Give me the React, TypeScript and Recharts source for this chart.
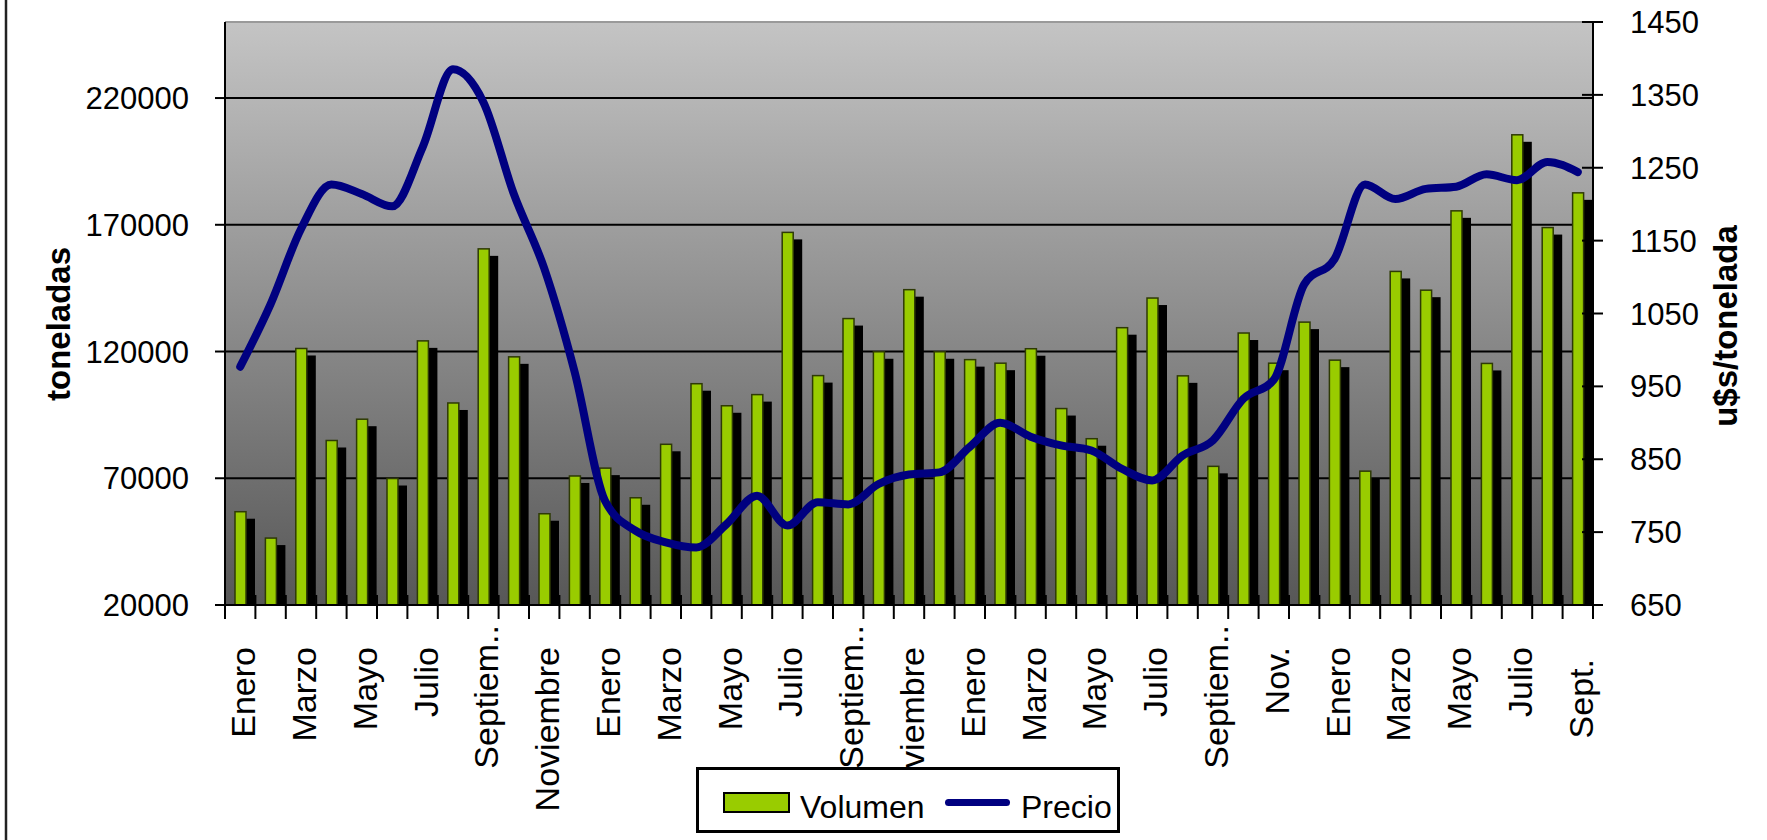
import React from 'react';
import {
  ComposedChart, Bar, Line, XAxis, YAxis, CartesianGrid, Legend, ReferenceLine,
} from 'recharts';

// Periodos mensuales: 3 años completos + enero a septiembre del cuarto
const PERIODOS = [
  'Ene-1', 'Feb-1', 'Mar-1', 'Abr-1', 'May-1', 'Jun-1', 'Jul-1', 'Ago-1', 'Sep-1', 'Oct-1', 'Nov-1', 'Dic-1',
  'Ene-2', 'Feb-2', 'Mar-2', 'Abr-2', 'May-2', 'Jun-2', 'Jul-2', 'Ago-2', 'Sep-2', 'Oct-2', 'Nov-2', 'Dic-2',
  'Ene-3', 'Feb-3', 'Mar-3', 'Abr-3', 'May-3', 'Jun-3', 'Jul-3', 'Ago-3', 'Sep-3', 'Oct-3', 'Nov-3', 'Dic-3',
  'Ene-4', 'Feb-4', 'Mar-4', 'Abr-4', 'May-4', 'Jun-4', 'Jul-4', 'Ago-4', 'Sep-4',
];

// Etiquetas visibles del eje X (un mes de cada dos)
const ETIQUETAS = [
  'Enero', 'Marzo', 'Mayo', 'Julio', 'Septiem..', 'Noviembre',
  'Enero', 'Marzo', 'Mayo', 'Julio', 'Septiem..', 'Noviembre',
  'Enero', 'Marzo', 'Mayo', 'Julio', 'Septiem..', 'Nov.',
  'Enero', 'Marzo', 'Mayo', 'Julio', 'Sept.',
];

// toneladas
const VOLUMEN = [
  56800, 46400, 121200, 84900, 93300, 69900, 124200, 99700, 160500, 117900, 56000, 70900,
  74000, 62300, 83400, 107300, 98600, 103000, 167000, 110500, 133000, 119900, 144400, 119900,
  116800, 115400, 121100, 97500, 85600, 129400, 141100, 110400, 74700, 127300, 115400, 131600,
  116600, 72800, 151600, 144200, 175500, 115300, 205500, 168900, 182600,
];

// u$s/tonelada
const PRECIO = [
  977, 1063, 1166, 1227, 1214, 1197, 1278, 1385, 1340, 1214, 1112, 970,
  793, 752, 736, 729, 761, 800, 759, 791, 788, 816, 829, 832,
  867, 900, 881, 869, 862, 837, 821, 855, 876, 933, 959, 1090,
  1125, 1227, 1207, 1221, 1224, 1241, 1233, 1258, 1244,
];

const TICKS_VOLUMEN = [20000, 70000, 120000, 170000, 220000];
const TICKS_PRECIO = [650, 750, 850, 950, 1050, 1150, 1250, 1350, 1450];

const ANCHO = 1767;
const ALTO = 840;
const EJE_IZQ = 225;
const EJE_DER = 174;
const EJE_X = 235;
const ARRIBA = 22;
const BANDA = (ANCHO - EJE_IZQ - EJE_DER) / PERIODOS.length;
const FUENTE = '"Liberation Sans", Arial, Helvetica, sans-serif';

// pequeños ajustes verticales de algunas etiquetas (como en el original)
const AJUSTE_ETIQUETA: Record<string, number> = { 'Septiem..': -22, 'Sept.': 12 };

const datos = PERIODOS.map((periodo, i) => ({
  periodo,
  volumen: VOLUMEN[i],
  precio: PRECIO[i],
}));

function BarraConSombra(props: any) {
  const { x, y, width, height } = props;
  if (!height || height <= 0) return null;
  return (
    <g>
      <rect x={x + 9} y={y + 7} width={width} height={Math.max(height - 7, 0)} fill="#000" />
      <rect x={x} y={y} width={width} height={height} fill="#99cc00" stroke="#2e3a05" strokeWidth={1.5} />
    </g>
  );
}

function TickMes(props: any) {
  const { x, y, payload } = props;
  const i = props.index ?? payload.index;
  const mitad = BANDA / 2;
  const etiqueta = i % 2 === 0 ? ETIQUETAS[i / 2] : null;
  const ajuste = etiqueta ? AJUSTE_ETIQUETA[etiqueta] || 0 : 0;
  return (
    <g>
      <line x1={x - mitad} x2={x - mitad} y1={y - 10} y2={y + 14} stroke="#000" strokeWidth={2} />
      {i === PERIODOS.length - 1 && (
        <line x1={x + mitad} x2={x + mitad} y1={y - 10} y2={y + 14} stroke="#000" strokeWidth={2} />
      )}
      {etiqueta && (
        <text
          transform={`translate(${x + 15},${y + 42 + ajuste}) rotate(-90)`}
          textAnchor="end"
          fontSize={34}
          fill="#000"
          fontFamily={FUENTE}
        >
          {etiqueta}
        </text>
      )}
    </g>
  );
}

// marcas del eje derecho que cruzan la línea del eje
function TickPrecio(props: any) {
  const { x, y, payload } = props;
  const ejeX = x - 37;
  return (
    <g>
      <line x1={ejeX - 11} x2={ejeX + 10} y1={y} y2={y} stroke="#000" strokeWidth={2} />
      <text x={x} y={y} dy="0.355em" textAnchor="start" fontSize={31} fill="#000" fontFamily={FUENTE}>
        {payload.value}
      </text>
    </g>
  );
}

function Leyenda() {
  return (
    <div
      style={{
        position: 'relative',
        width: 424,
        height: 66,
        border: '3px solid #000',
        boxSizing: 'border-box',
        background: '#fff',
        fontFamily: FUENTE,
        fontSize: 32,
        color: '#000',
      }}
    >
      <div
        style={{
          position: 'absolute', left: 24, top: 22, width: 67, height: 21,
          background: '#99cc00', border: '2px solid #000', boxSizing: 'border-box',
        }}
      />
      <span style={{ position: 'absolute', left: 101, top: 19, lineHeight: '36px' }}>Volumen</span>
      <div
        style={{
          position: 'absolute', left: 246, top: 29, width: 65, height: 7,
          background: '#000080', borderRadius: 4,
        }}
      />
      <span style={{ position: 'absolute', left: 322, top: 19, lineHeight: '36px' }}>Precio</span>
    </div>
  );
}

export default function App() {
  return (
    <div style={{ position: 'absolute', left: 0, top: 0, width: ANCHO, height: ALTO, background: '#fff' }}>
      <ComposedChart
        width={ANCHO}
        height={ALTO}
        data={datos}
        margin={{ top: ARRIBA, right: 0, bottom: 0, left: 0 }}
        style={{ fontFamily: FUENTE }}
      >
        <defs>
          <linearGradient id="fondoGris" x1="0" y1="0" x2="0" y2="1">
            <stop offset="0%" stopColor="#c4c4c4" />
            <stop offset="100%" stopColor="#575757" />
          </linearGradient>
        </defs>
        <CartesianGrid
          yAxisId="vol"
          vertical={false}
          stroke="#000"
          strokeWidth={2}
          fill="url(#fondoGris)"
          fillOpacity={1}
        />
        <ReferenceLine yAxisId="vol" y={250000} stroke="#9a9a9a" strokeWidth={2} />
        <XAxis
          dataKey="periodo"
          height={EJE_X}
          interval={0}
          tickLine={false}
          tickSize={0}
          tickMargin={0}
          axisLine={{ stroke: '#000', strokeWidth: 2 }}
          tick={<TickMes />}
        />
        <YAxis
          yAxisId="vol"
          width={EJE_IZQ}
          domain={[20000, 250000]}
          ticks={TICKS_VOLUMEN}
          allowDataOverflow
          tickSize={10}
          tickMargin={26}
          axisLine={{ stroke: '#000', strokeWidth: 2 }}
          tickLine={{ stroke: '#000', strokeWidth: 2 }}
          tick={{ fontSize: 31, fill: '#000', fontFamily: FUENTE }}
        />
        <YAxis
          yAxisId="precio"
          orientation="right"
          width={EJE_DER}
          domain={[650, 1450]}
          ticks={TICKS_PRECIO}
          allowDataOverflow
          tickSize={10}
          tickMargin={27}
          axisLine={{ stroke: '#000', strokeWidth: 2 }}
          tickLine={false}
          tick={<TickPrecio />}
        />
        <Bar
          yAxisId="vol"
          dataKey="volumen"
          name="Volumen"
          barSize={11}
          shape={<BarraConSombra />}
          isAnimationActive={false}
        />
        <Line
          yAxisId="precio"
          type="monotone"
          dataKey="precio"
          name="Precio"
          stroke="#000080"
          strokeWidth={8}
          strokeLinecap="round"
          strokeLinejoin="round"
          dot={false}
          activeDot={false}
          isAnimationActive={false}
        />
        <line x1={6} x2={6} y1={0} y2={ALTO} stroke="#222" strokeWidth={2.5} />
        <text
          transform="translate(70,324) rotate(-90)"
          textAnchor="middle"
          fontSize={33}
          fontWeight="bold"
          fill="#000"
          fontFamily={FUENTE}
        >
          toneladas
        </text>
        <text
          transform="translate(1737,326) rotate(-90)"
          textAnchor="middle"
          fontSize={33}
          fontWeight="bold"
          fill="#000"
          fontFamily={FUENTE}
        >
          u$s/tonelada
        </text>
        <Legend
          layout="horizontal"
          verticalAlign="middle"
          align="center"
          wrapperStyle={{ left: 696, top: 767, width: 424, height: 66 }}
          content={() => <Leyenda />}
        />
      </ComposedChart>
    </div>
  );
}
